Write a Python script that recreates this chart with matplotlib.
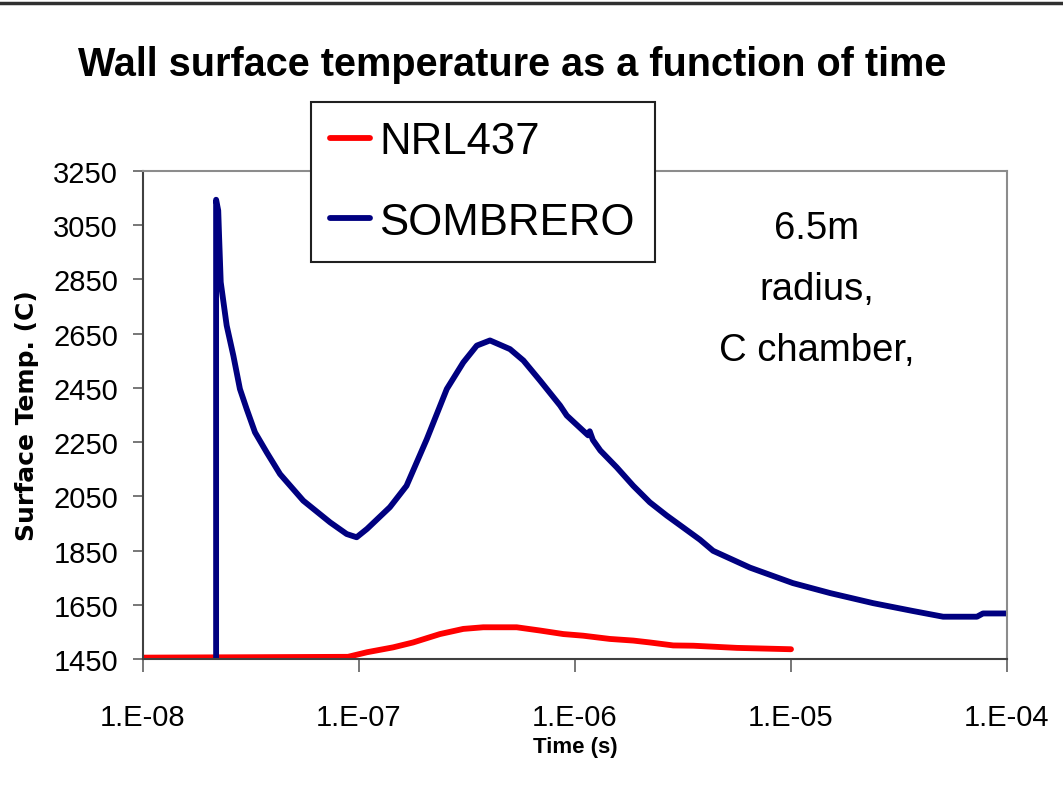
import math
import matplotlib
matplotlib.use("Agg")
import matplotlib.pyplot as plt
from matplotlib.lines import Line2D
from matplotlib.ticker import FixedLocator, NullLocator, FuncFormatter

FONT = ['Liberation Sans', 'DejaVu Sans']

# NRL437 - tempo (s) e temperatura superficiale (C)
nrl_t = [1.0e-8, 8.89e-8, 1.09e-7, 1.44e-7, 1.78e-7, 2.37e-7, 3.04e-7, 3.76e-7,
         5.37e-7, 6.89e-7, 8.83e-7, 1.09e-6, 1.45e-6, 1.86e-6, 2.22e-6, 2.85e-6,
         3.53e-6, 5.62e-6, 1.0e-5]
nrl_T = [1455, 1458, 1475, 1493, 1511, 1542, 1561, 1567,
         1567, 1555, 1542, 1536, 1524, 1518, 1511, 1500,
         1499, 1491, 1486]

# SOMBRERO
som_t = [2.18e-8, 2.18e-8, 2.23e-8, 2.25e-8, 2.29e-8, 2.44e-8, 2.62e-8, 2.81e-8,
         3.02e-8, 3.30e-8, 3.74e-8, 4.31e-8, 5.52e-8, 7.35e-8, 8.77e-8, 9.75e-8,
         1.09e-7, 1.39e-7, 1.66e-7, 2.06e-7, 2.55e-7, 3.04e-7, 3.51e-7, 4.04e-7,
         5.00e-7, 5.77e-7, 6.89e-7, 8.53e-7, 9.16e-7, 1.15e-6, 1.17e-6, 1.21e-6,
         1.31e-6, 1.56e-6, 1.86e-6, 2.22e-6, 2.66e-6, 3.17e-6, 3.79e-6, 4.36e-6,
         6.46e-6, 1.02e-5, 1.52e-5, 2.40e-5, 3.67e-5, 5.06e-5, 7.26e-5, 7.74e-5,
         1.0e-4]
som_T = [1450, 3144, 3104, 3011, 2840, 2680, 2569, 2446,
         2372, 2286, 2212, 2132, 2034, 1954, 1911, 1899,
         1930, 2010, 2089, 2261, 2446, 2544, 2606, 2625,
         2593, 2551, 2477, 2385, 2348, 2275, 2290, 2258,
         2219, 2157, 2089, 2028, 1979, 1935, 1890, 1849,
         1787, 1730, 1693, 1656, 1627, 1606, 1606, 1618,
         1618]

y_ticks = [1450, 1650, 1850, 2050, 2250, 2450, 2650, 2850, 3050, 3250]
x_ticks = [1e-8, 1e-7, 1e-6, 1e-5, 1e-4]

fig = plt.figure(figsize=(10.63, 8.04), dpi=100)
ax = fig.add_axes([143 / 1063, 1 - 660 / 804, 864 / 1063, 488 / 804])

ax.plot(nrl_t, nrl_T, color='#FF0000', linewidth=4.2, solid_capstyle='round', label='NRL437')
ax.plot(som_t, som_T, color='#000080', linewidth=4.2, solid_capstyle='round',
        solid_joinstyle='round', label='SOMBRERO')

ax.set_xscale('log')
ax.set_xlim(1e-8, 1e-4)
ax.set_ylim(1450, 3250)
ax.xaxis.set_major_locator(FixedLocator(x_ticks))
ax.xaxis.set_minor_locator(NullLocator())
ax.xaxis.set_major_formatter(FuncFormatter(lambda v, p: "1.E-%02d" % round(-math.log10(v))))
ax.set_yticks(y_ticks)

for s in ['top', 'right']:
    ax.spines[s].set_color('#8c8c8c')
    ax.spines[s].set_linewidth(1.5)
for s in ['left', 'bottom']:
    ax.spines[s].set_color('#404040')
    ax.spines[s].set_linewidth(1.5)

ax.tick_params(axis='y', direction='out', length=7, width=1.2, color='#606060', pad=11)
ax.tick_params(axis='x', direction='out', length=9, width=1.2, color='#606060', pad=23)
for lab in ax.get_xticklabels() + ax.get_yticklabels():
    lab.set_family(FONT)
    lab.set_fontsize(21)

ax.set_xlabel('Time (s)', family=FONT, fontsize=16, fontweight='bold', labelpad=3)
ax.set_ylabel('Surface Temp. (C)', family='DejaVu Sans', fontsize=18, fontweight='bold', labelpad=10)

fig.text(512 / 1063, 1 - 65 / 804, 'Wall surface temperature as a function of time',
         ha='center', va='center', family=FONT, fontsize=28.5, fontweight='bold')

fig.text(817 / 1063, 1 - 290 / 804, '6.5m\nradius,\nC chamber,', ha='center', va='center',
         multialignment='center', family=FONT, fontsize=27.5, linespacing=1.9)

leg = ax.legend(loc='upper left', bbox_to_anchor=(310.7 / 1063, 1 - 102.7 / 804),
                bbox_transform=fig.transFigure, prop={'family': FONT, 'size': 31.5},
                fancybox=False, framealpha=1, edgecolor='#202020', borderpad=0.45,
                handlelength=0.9, handletextpad=0.22, labelspacing=0.9, borderaxespad=0)
leg.get_frame().set_linewidth(1.5)

# linea di bordo in alto
fig.add_artist(Line2D([0, 1], [1 - 4 / 804, 1 - 4 / 804], transform=fig.transFigure,
                      color='#303030', linewidth=2.5))

plt.savefig('out.png', dpi=100)
